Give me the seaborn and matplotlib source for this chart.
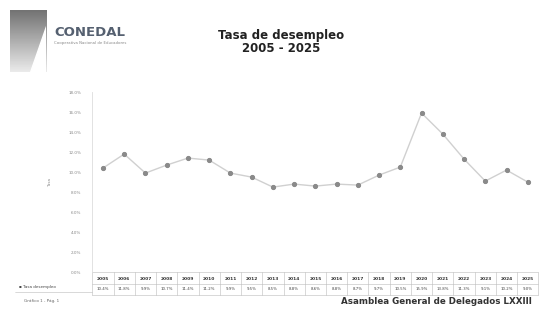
import numpy as np
import pandas as pd
import matplotlib
matplotlib.use("Agg")
import matplotlib.pyplot as plt
import seaborn as sns
from matplotlib.patches import Polygon

# ── Data ───────────────────────────────────────────────────────────────────
years = [str(y) for y in range(2005, 2026)]
rates = [10.4, 11.8, 9.9, 10.7, 11.4, 11.2, 9.9, 9.5, 8.5, 8.8, 8.6,
         8.8, 8.7, 9.7, 10.5, 15.9, 13.8, 11.3, 9.1, 10.2, 9.0]
y_ticks = [0, 2, 4, 6, 8, 10, 12, 14, 16, 18]
series_name = "Tasa desempleo"

df = pd.DataFrame({"year": years, "rate": rates})
df["idx"] = range(len(df))

sns.set_theme(style="white")
plt.rcParams["font.family"] = ["DejaVu Sans"]

fig = plt.figure(figsize=(5.4, 3.11), dpi=100)
ax = fig.add_axes([0.171, 0.125, 0.826, 0.579])

sns.lineplot(data=df, x="idx", y="rate", ax=ax, color="#d0d0d0",
             linewidth=1.0, marker="o", markersize=3,
             markerfacecolor="#8a8a8a", markeredgecolor="#8a8a8a")

ax.set_xlim(-0.5, len(years) - 0.5)
ax.set_ylim(y_ticks[0], y_ticks[-1])
ax.set_yticks(y_ticks)
ax.set_yticklabels([f"{t:.1f}%" for t in y_ticks], fontsize=3, color="#888888")
ax.set_xticks([])
ax.set_xlabel("")
ax.set_ylabel("Tasa", fontsize=3, color="#888888", labelpad=12)
ax.tick_params(axis="y", length=0, pad=8)
for side in ["top", "right", "bottom"]:
    ax.spines[side].set_visible(False)
ax.spines["left"].set_color("#dddddd")
ax.spines["left"].set_linewidth(0.6)

# ── Data table under the plot ───────────────────────────────────────────────
trans = ax.get_xaxis_transform()
row1, row2 = -0.04, -0.095
for i, (yr, v) in enumerate(zip(years, rates)):
    ax.text(i, row1, yr, transform=trans, ha="center", va="center",
            fontsize=3.2, fontweight="bold", color="#333333", clip_on=False)
    ax.text(i, row2, f"{v:.1f}%", transform=trans, ha="center", va="center",
            fontsize=2.8, color="#444444", clip_on=False)
for k in range(len(years) + 1):
    ax.plot([k - 0.5, k - 0.5], [0, -0.125], transform=trans, color="#bbbbbb",
            lw=0.4, clip_on=False)
for yy in [0, -0.068, -0.125]:
    ax.plot([-0.5, len(years) - 0.5], [yy, yy], transform=trans,
            color="#bbbbbb", lw=0.4, clip_on=False)
fig.text(0.035, 1 - 287 / 311, "\u25aa " + series_name, fontsize=3,
         color="#444444", va="center")
fig.lines.append(plt.Line2D([0.028, 0.171], [1 - 292 / 311] * 2,
                            transform=fig.transFigure, color="#bbbbbb", lw=0.4))

# ── Title ───────────────────────────────────────────────────────────────────
fig.text(0.52, 1 - 35 / 311, "Tasa de desempleo", ha="center", va="center",
         fontsize=8.5, fontweight="bold", color="#222222")
fig.text(0.52, 1 - 49 / 311, "2005 - 2025", ha="center", va="center",
         fontsize=8.5, fontweight="bold", color="#222222")

# ── Logo ────────────────────────────────────────────────────────────────────
grad = np.linspace(0.45, 0.92, 100).reshape(-1, 1)
logo_ax = fig.add_axes([0.018, 1 - 72 / 311, 0.068, 62 / 311])
logo_ax.imshow(grad, cmap="gray", vmin=0, vmax=1, aspect="auto",
               extent=[0, 1, 0, 1])
logo_ax.add_patch(Polygon([[0.55, 0], [1, 0], [1, 0.75]], closed=True,
                          color="white"))
logo_ax.set_xlim(0, 1)
logo_ax.set_ylim(0, 1)
logo_ax.axis("off")
fig.text(0.10, 1 - 33 / 311, "CONEDAL", fontsize=9.5, fontweight="bold",
         color="#556070", va="center")
fig.text(0.10, 1 - 43 / 311, "Cooperativa Nacional de Educadores", fontsize=2.8,
         color="#888888", va="center")

# ── Footer ──────────────────────────────────────────────────────────────────
fig.text(0.045, 1 - 301 / 311, "Gráfico 1 - Pág. 1", fontsize=3,
         color="#666666", va="center")
fig.text(0.985, 1 - 302 / 311, "Asamblea General de Delegados LXXIII",
         ha="right", va="center", fontsize=6.3, fontweight="bold",
         color="#333333")

fig.savefig("out.png", dpi=100)
plt.close(fig)
